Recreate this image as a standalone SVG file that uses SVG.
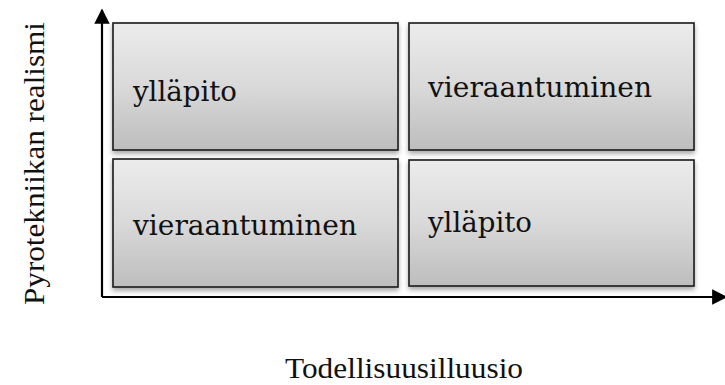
<svg xmlns="http://www.w3.org/2000/svg" width="725" height="385" viewBox="0 0 725 385">
<defs>
<linearGradient id="g" x1="0" y1="0" x2="0" y2="1">
<stop offset="0" stop-color="#ececec"/>
<stop offset="0.5" stop-color="#d9d9d9"/>
<stop offset="1" stop-color="#bdbdbd"/>
</linearGradient>
<filter id="sh" x="-10%" y="-10%" width="120%" height="130%">
<feGaussianBlur in="SourceAlpha" stdDeviation="2.5"/>
<feOffset dx="0" dy="3" result="b"/>
<feComponentTransfer><feFuncA type="linear" slope="0.35"/></feComponentTransfer>
<feMerge><feMergeNode/><feMergeNode in="SourceGraphic"/></feMerge>
</filter>
<marker id="ah" viewBox="0 0 10 10" refX="9" refY="5" markerWidth="7" markerHeight="7" orient="auto" markerUnits="strokeWidth">
<path d="M0,0 L10,5 L0,10 z" fill="#000"/>
</marker>
</defs>
<style>
.box{fill:url(#g);stroke:#1a1a1a;stroke-width:1.6;filter:url(#sh)}
.t{font-family:"DejaVu Serif","Liberation Serif",serif;font-size:27px;fill:#111}
.al{font-family:"Liberation Serif","DejaVu Serif",serif;font-size:30px;fill:#111}
.ax{stroke:#000;stroke-width:2.2;fill:none}
</style>
<g id="connectors">
<path class="ax" d="M102,297 V10" marker-end="url(#ah)"/>
<path class="ax" d="M102,297 H726" marker-end="url(#ah)"/>
</g>
<g id="n1"><rect class="box" x="113" y="23" width="285" height="127"/><text class="t" x="133" y="101" textLength="104" lengthAdjust="spacingAndGlyphs">ylläpito</text></g>
<g id="n2"><rect class="box" x="409" y="23" width="285" height="127"/><text class="t" x="428" y="97" textLength="224" lengthAdjust="spacingAndGlyphs">vieraantuminen</text></g>
<g id="n3"><rect class="box" x="113" y="159" width="285" height="128"/><text class="t" x="133" y="235" textLength="224" lengthAdjust="spacingAndGlyphs">vieraantuminen</text></g>
<g id="n4"><rect class="box" x="409" y="160" width="285" height="126"/><text class="t" x="428" y="232" textLength="104" lengthAdjust="spacingAndGlyphs">ylläpito</text></g>
<text class="al" x="285" y="378" textLength="238" lengthAdjust="spacingAndGlyphs">Todellisuusilluusio</text>
<text class="al" transform="translate(44,305) rotate(-90)" x="0" y="0" textLength="283" lengthAdjust="spacingAndGlyphs">Pyrotekniikan realismi</text>
</svg>
